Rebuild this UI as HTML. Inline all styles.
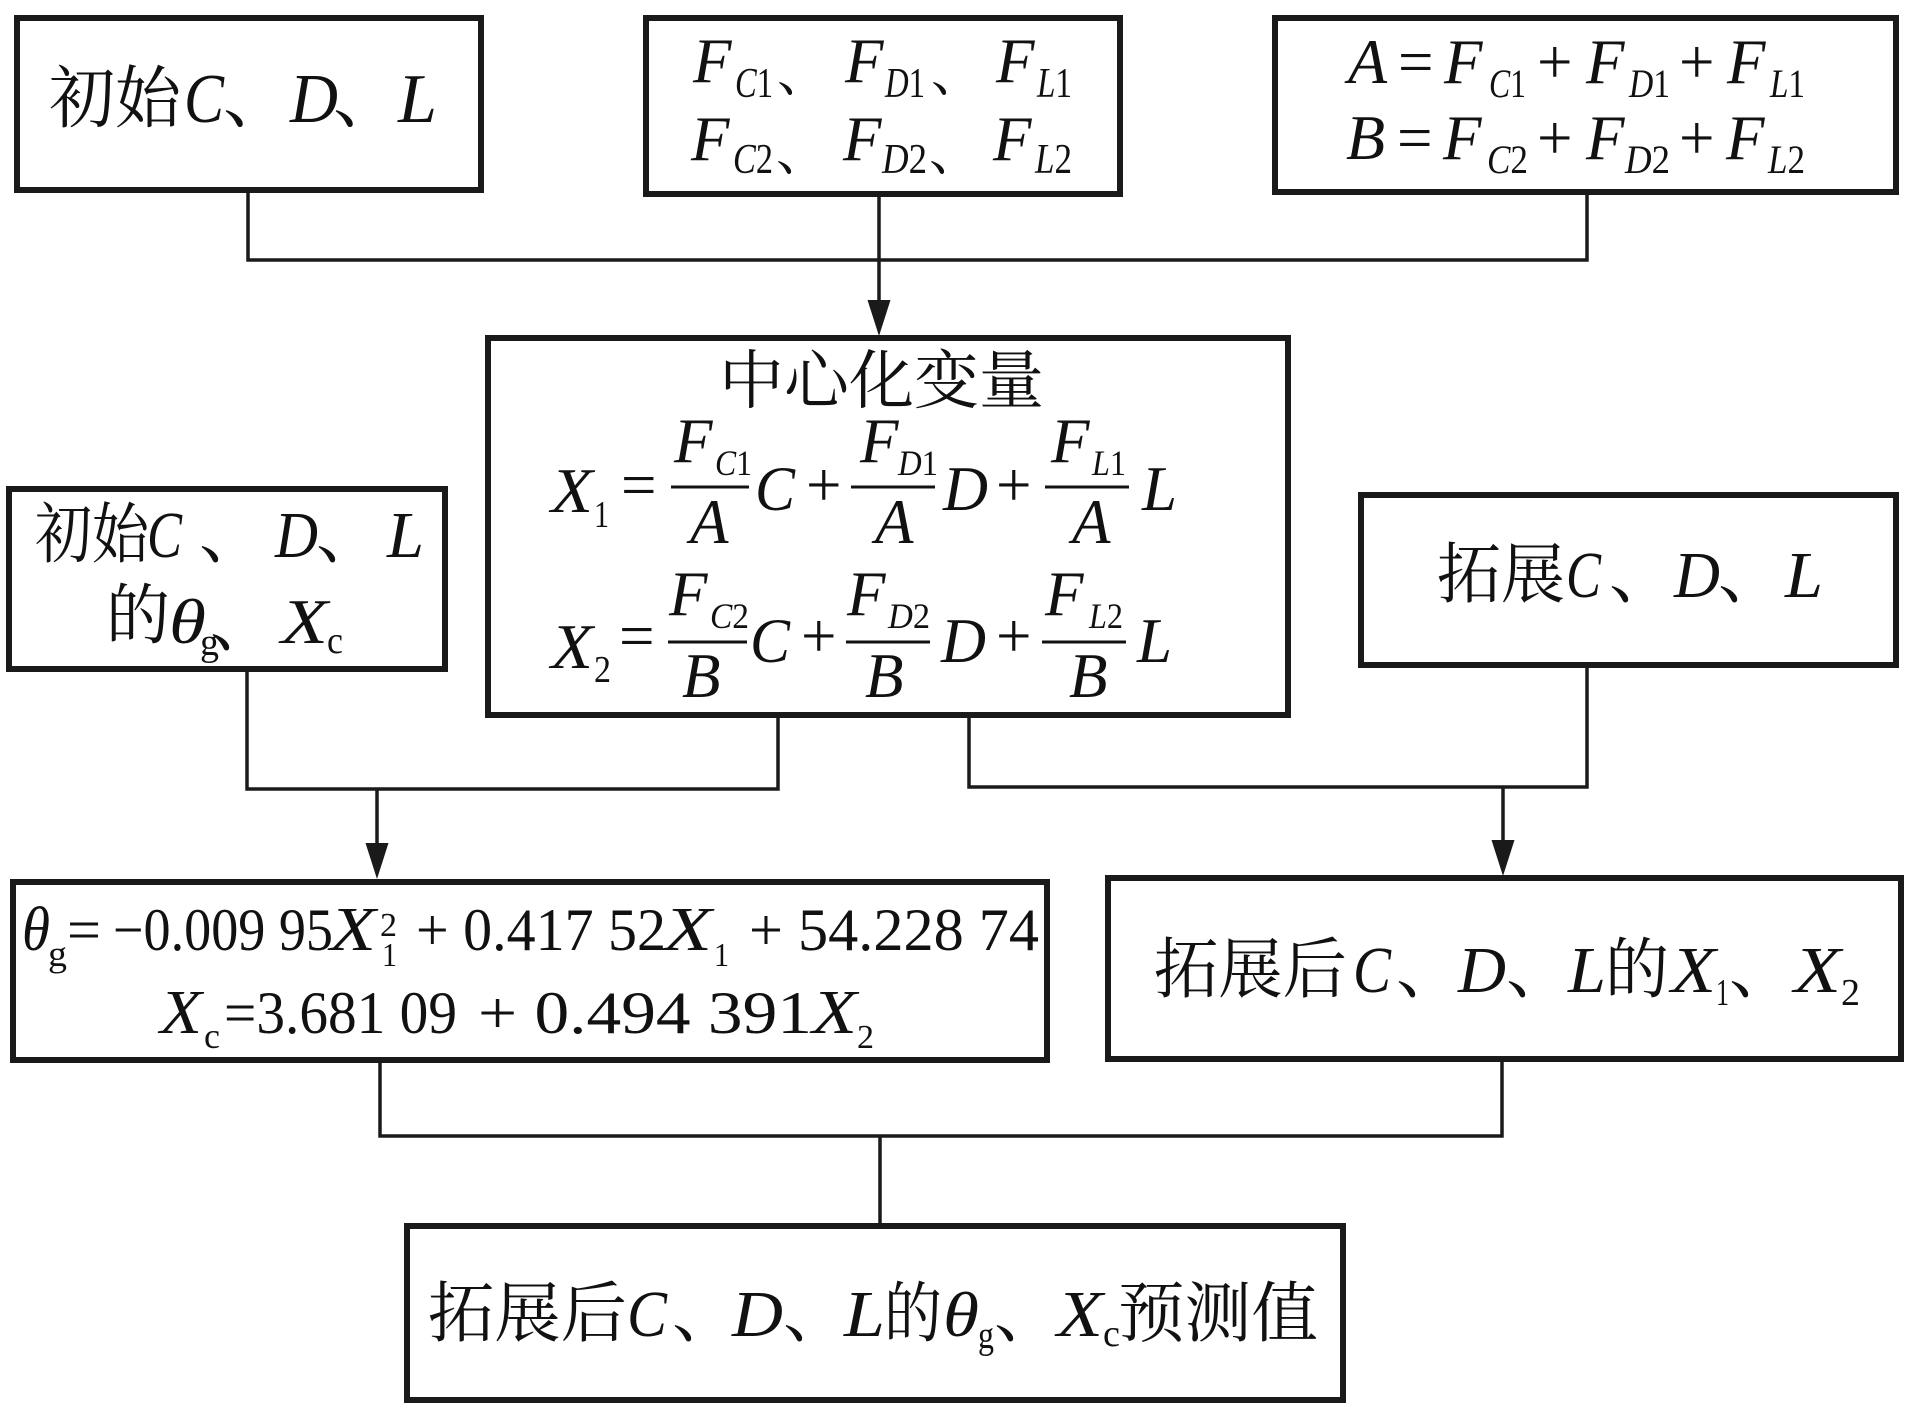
<!DOCTYPE html>
<html>
<head>
<meta charset="utf-8">
<style>
html,body{margin:0;padding:0;background:#fff;}
svg{display:block;}
.c{font-family:"Noto Serif CJK SC","Liberation Serif",serif;}
.i{font-family:"Liberation Serif",serif;font-style:italic;}
.r{font-family:"Liberation Serif",serif;font-style:normal;}
text{fill:#111;}
</style>
</head>
<body>
<svg width="1913" height="1420" viewBox="0 0 1913 1420" xmlns="http://www.w3.org/2000/svg">
<rect width="1913" height="1420" fill="#fff"/>

<!-- boxes -->
<g fill="none" stroke="#1a1a1a" stroke-width="6">
  <rect x="17" y="18" width="464" height="172"/>
  <rect x="646" y="18" width="474" height="176"/>
  <rect x="1275" y="18" width="621" height="174"/>
  <rect x="488" y="338" width="800" height="377"/>
  <rect x="9" y="489" width="436" height="180"/>
  <rect x="1361" y="495" width="535" height="170"/>
  <rect x="13" y="882" width="1034" height="178"/>
  <rect x="1108" y="878" width="793" height="181"/>
  <rect x="407" y="1226" width="936" height="174"/>
</g>

<!-- connectors -->
<g fill="none" stroke="#1a1a1a" stroke-width="3.5">
  <path d="M248 193 V260 H1587 V195"/>
  <path d="M879 197 V302"/>
  <path d="M247 672 V789 H778 V718"/>
  <path d="M377 789 V845"/>
  <path d="M969 718 V787 H1587 V668"/>
  <path d="M1503 787 V842"/>
  <path d="M380 1063 V1136 H1502 V1062"/>
  <path d="M880 1136 V1223"/>
</g>
<g fill="#1a1a1a">
  <polygon points="867.5,300 890.5,300 879,336"/>
  <polygon points="365.5,843 388.5,843 377,879"/>
  <polygon points="1491.5,840 1514.5,840 1503,876"/>
</g>

<!-- fraction bars -->
<g stroke="#111" stroke-width="3">
  <line x1="671" y1="487" x2="749" y2="487"/>
  <line x1="851" y1="487" x2="935" y2="487"/>
  <line x1="1045" y1="487" x2="1129" y2="487"/>
  <line x1="668" y1="642" x2="747" y2="642"/>
  <line x1="846" y1="642" x2="930" y2="642"/>
  <line x1="1042" y1="642" x2="1126" y2="642"/>
</g>

<!-- Box 1 -->
<text class="c" x="49" y="122" font-size="68" textLength="132" lengthAdjust="spacingAndGlyphs">初始</text>
<text class="i" x="184" y="122" font-size="70" textLength="40" lengthAdjust="spacingAndGlyphs">C</text>
<text class="c" x="223" y="122" font-size="68">、</text>
<text class="i" x="290" y="122" font-size="70" textLength="48" lengthAdjust="spacingAndGlyphs">D</text>
<text class="c" x="333" y="122" font-size="68">、</text>
<text class="i" x="398" y="122" font-size="70" textLength="39" lengthAdjust="spacingAndGlyphs">L</text>

<!-- Box 2 -->
<text class="i" x="693" y="82" font-size="63">F</text>
<text class="r" x="735" y="97" font-size="42" textLength="38" lengthAdjust="spacingAndGlyphs"><tspan font-style="italic">C</tspan>1</text>
<text class="c" x="777" y="91" font-size="52">、</text>
<text class="i" x="845" y="82" font-size="63">F</text>
<text class="r" x="885" y="97" font-size="42" textLength="40" lengthAdjust="spacingAndGlyphs"><tspan font-style="italic">D</tspan>1</text>
<text class="c" x="931" y="91" font-size="52">、</text>
<text class="i" x="996" y="82" font-size="63">F</text>
<text class="r" x="1037" y="97" font-size="42" textLength="35" lengthAdjust="spacingAndGlyphs"><tspan font-style="italic">L</tspan>1</text>

<text class="i" x="691" y="160" font-size="63">F</text>
<text class="r" x="733" y="173" font-size="42" textLength="40" lengthAdjust="spacingAndGlyphs"><tspan font-style="italic">C</tspan>2</text>
<text class="c" x="776" y="170" font-size="52">、</text>
<text class="i" x="843" y="160" font-size="63">F</text>
<text class="r" x="882" y="173" font-size="42" textLength="45" lengthAdjust="spacingAndGlyphs"><tspan font-style="italic">D</tspan>2</text>
<text class="c" x="929" y="170" font-size="52">、</text>
<text class="i" x="993" y="160" font-size="63">F</text>
<text class="r" x="1035" y="173" font-size="42" textLength="37" lengthAdjust="spacingAndGlyphs"><tspan font-style="italic">L</tspan>2</text>

<!-- Box 3 -->
<text class="i" x="1348" y="83" font-size="64">A</text>
<text class="r" x="1398" y="83" font-size="63">=</text>
<text class="i" x="1444" y="83" font-size="63">F</text>
<text class="r" x="1489" y="97" font-size="40" textLength="37" lengthAdjust="spacingAndGlyphs"><tspan font-style="italic">C</tspan>1</text>
<text class="r" x="1537" y="83" font-size="63">+</text>
<text class="i" x="1586" y="83" font-size="63">F</text>
<text class="r" x="1629" y="97" font-size="40" textLength="41" lengthAdjust="spacingAndGlyphs"><tspan font-style="italic">D</tspan>1</text>
<text class="r" x="1679" y="83" font-size="63">+</text>
<text class="i" x="1727" y="83" font-size="63">F</text>
<text class="r" x="1770" y="97" font-size="40" textLength="35" lengthAdjust="spacingAndGlyphs"><tspan font-style="italic">L</tspan>1</text>

<text class="i" x="1346" y="159" font-size="64">B</text>
<text class="r" x="1397" y="159" font-size="63">=</text>
<text class="i" x="1443" y="159" font-size="63">F</text>
<text class="r" x="1487" y="173" font-size="40" textLength="41" lengthAdjust="spacingAndGlyphs"><tspan font-style="italic">C</tspan>2</text>
<text class="r" x="1537" y="159" font-size="63">+</text>
<text class="i" x="1586" y="159" font-size="63">F</text>
<text class="r" x="1625" y="173" font-size="40" textLength="45" lengthAdjust="spacingAndGlyphs"><tspan font-style="italic">D</tspan>2</text>
<text class="r" x="1679" y="159" font-size="63">+</text>
<text class="i" x="1726" y="159" font-size="63">F</text>
<text class="r" x="1768" y="173" font-size="40" textLength="37" lengthAdjust="spacingAndGlyphs"><tspan font-style="italic">L</tspan>2</text>

<!-- Center box -->
<text class="c" x="719" y="403" font-size="64" textLength="325" lengthAdjust="spacingAndGlyphs">中心化变量</text>

<!-- X1 row -->
<text class="i" x="551" y="512" font-size="63" textLength="42" lengthAdjust="spacingAndGlyphs">X</text>
<text class="r" x="594" y="527" font-size="38" textLength="15" lengthAdjust="spacingAndGlyphs">1</text>
<text class="r" x="621" y="506" font-size="63">=</text>
<text class="i" x="674" y="462" font-size="63">F</text>
<text class="r" x="715" y="475" font-size="36" textLength="37" lengthAdjust="spacingAndGlyphs"><tspan font-style="italic">C</tspan>1</text>
<text class="i" x="690" y="543" font-size="63">A</text>
<text class="i" x="755" y="510" font-size="63" textLength="40" lengthAdjust="spacingAndGlyphs">C</text>
<text class="r" x="806" y="506" font-size="63">+</text>
<text class="i" x="860" y="462" font-size="63">F</text>
<text class="r" x="898" y="475" font-size="36" textLength="40" lengthAdjust="spacingAndGlyphs"><tspan font-style="italic">D</tspan>1</text>
<text class="i" x="875" y="543" font-size="63">A</text>
<text class="i" x="943" y="510" font-size="63" textLength="45" lengthAdjust="spacingAndGlyphs">D</text>
<text class="r" x="996" y="506" font-size="63">+</text>
<text class="i" x="1051" y="462" font-size="63">F</text>
<text class="r" x="1092" y="475" font-size="36" textLength="34" lengthAdjust="spacingAndGlyphs"><tspan font-style="italic">L</tspan>1</text>
<text class="i" x="1072" y="543" font-size="63">A</text>
<text class="i" x="1142" y="510" font-size="63" textLength="35" lengthAdjust="spacingAndGlyphs">L</text>

<!-- X2 row -->
<text class="i" x="551" y="668" font-size="63" textLength="42" lengthAdjust="spacingAndGlyphs">X</text>
<text class="r" x="594" y="682" font-size="38" textLength="17" lengthAdjust="spacingAndGlyphs">2</text>
<text class="r" x="619" y="657" font-size="63">=</text>
<text class="i" x="669" y="615" font-size="63">F</text>
<text class="r" x="710" y="628" font-size="36" textLength="39" lengthAdjust="spacingAndGlyphs"><tspan font-style="italic">C</tspan>2</text>
<text class="i" x="682" y="697" font-size="63">B</text>
<text class="i" x="750" y="662" font-size="63" textLength="40" lengthAdjust="spacingAndGlyphs">C</text>
<text class="r" x="801" y="657" font-size="63">+</text>
<text class="i" x="847" y="615" font-size="63">F</text>
<text class="r" x="888" y="628" font-size="36" textLength="42" lengthAdjust="spacingAndGlyphs"><tspan font-style="italic">D</tspan>2</text>
<text class="i" x="865" y="697" font-size="63">B</text>
<text class="i" x="941" y="662" font-size="63" textLength="45" lengthAdjust="spacingAndGlyphs">D</text>
<text class="r" x="996" y="657" font-size="63">+</text>
<text class="i" x="1045" y="615" font-size="63">F</text>
<text class="r" x="1089" y="628" font-size="36" textLength="34" lengthAdjust="spacingAndGlyphs"><tspan font-style="italic">L</tspan>2</text>
<text class="i" x="1069" y="697" font-size="63">B</text>
<text class="i" x="1137" y="662" font-size="63" textLength="35" lengthAdjust="spacingAndGlyphs">L</text>

<!-- Left box -->
<text class="c" x="35" y="557" font-size="66" textLength="114" lengthAdjust="spacingAndGlyphs">初始</text>
<text class="i" x="147" y="557" font-size="66" textLength="35" lengthAdjust="spacingAndGlyphs">C</text>
<text class="c" x="199" y="557" font-size="66">、</text>
<text class="i" x="275" y="557" font-size="66" textLength="43" lengthAdjust="spacingAndGlyphs">D</text>
<text class="c" x="316" y="557" font-size="66">、</text>
<text class="i" x="387" y="557" font-size="66" textLength="37" lengthAdjust="spacingAndGlyphs">L</text>

<text class="c" x="106" y="638" font-size="66" textLength="64" lengthAdjust="spacingAndGlyphs">的</text>
<text class="i" x="169" y="643" font-size="64" textLength="37" lengthAdjust="spacingAndGlyphs">θ</text>
<text class="r" x="200" y="655" font-size="38" textLength="19" lengthAdjust="spacingAndGlyphs">g</text>
<text class="c" x="210" y="645" font-size="66">、</text>
<text class="i" x="281" y="643" font-size="64" textLength="47" lengthAdjust="spacingAndGlyphs">X</text>
<text class="r" x="327" y="653" font-size="38" textLength="16" lengthAdjust="spacingAndGlyphs">c</text>

<!-- Right box -->
<text class="c" x="1437" y="597" font-size="66" textLength="128" lengthAdjust="spacingAndGlyphs">拓展</text>
<text class="i" x="1566" y="597" font-size="66" textLength="35" lengthAdjust="spacingAndGlyphs">C</text>
<text class="c" x="1609" y="597" font-size="66">、</text>
<text class="i" x="1674" y="597" font-size="66" textLength="46" lengthAdjust="spacingAndGlyphs">D</text>
<text class="c" x="1718" y="597" font-size="66">、</text>
<text class="i" x="1785" y="597" font-size="66" textLength="38" lengthAdjust="spacingAndGlyphs">L</text>

<!-- Theta box -->
<text class="i" x="22" y="950" font-size="62" textLength="28" lengthAdjust="spacingAndGlyphs">θ</text>
<text class="r" x="48" y="966" font-size="36" textLength="19" lengthAdjust="spacingAndGlyphs">g</text>
<text class="r" x="67" y="950" font-size="60" textLength="34" lengthAdjust="spacingAndGlyphs">=</text>
<text class="r" x="113" y="950" font-size="60" textLength="220" lengthAdjust="spacingAndGlyphs">−0.009 95</text>
<text class="i" x="330" y="950" font-size="62" textLength="46" lengthAdjust="spacingAndGlyphs">X</text>
<text class="r" x="380" y="936" font-size="34" textLength="17" lengthAdjust="spacingAndGlyphs">2</text>
<text class="r" x="382" y="966" font-size="34" textLength="15" lengthAdjust="spacingAndGlyphs">1</text>
<text class="r" x="416" y="950" font-size="60" textLength="250" lengthAdjust="spacingAndGlyphs">+ 0.417 52</text>
<text class="i" x="664" y="950" font-size="62" textLength="48" lengthAdjust="spacingAndGlyphs">X</text>
<text class="r" x="714" y="966" font-size="34" textLength="15" lengthAdjust="spacingAndGlyphs">1</text>
<text class="r" x="749" y="950" font-size="60" textLength="290" lengthAdjust="spacingAndGlyphs">+ 54.228 74</text>

<text class="i" x="160" y="1033" font-size="62" textLength="42" lengthAdjust="spacingAndGlyphs">X</text>
<text class="r" x="204" y="1048" font-size="36" textLength="16" lengthAdjust="spacingAndGlyphs">c</text>
<text class="r" x="224" y="1033" font-size="60" textLength="233" lengthAdjust="spacingAndGlyphs">=3.681 09</text>
<text class="r" x="478" y="1033" font-size="60" textLength="334" lengthAdjust="spacingAndGlyphs">+ 0.494 391</text>
<text class="i" x="812" y="1033" font-size="62" textLength="45" lengthAdjust="spacingAndGlyphs">X</text>
<text class="r" x="857" y="1048" font-size="34" textLength="17" lengthAdjust="spacingAndGlyphs">2</text>

<!-- Right box 2 -->
<text class="c" x="1154" y="992" font-size="66" textLength="193" lengthAdjust="spacingAndGlyphs">拓展后</text>
<text class="i" x="1353" y="992" font-size="66" textLength="38" lengthAdjust="spacingAndGlyphs">C</text>
<text class="c" x="1396" y="992" font-size="66">、</text>
<text class="i" x="1458" y="992" font-size="66" textLength="48" lengthAdjust="spacingAndGlyphs">D</text>
<text class="c" x="1506" y="992" font-size="66">、</text>
<text class="i" x="1568" y="992" font-size="66" textLength="38" lengthAdjust="spacingAndGlyphs">L</text>
<text class="c" x="1605" y="992" font-size="66" textLength="64" lengthAdjust="spacingAndGlyphs">的</text>
<text class="i" x="1671" y="992" font-size="66" textLength="45" lengthAdjust="spacingAndGlyphs">X</text>
<text class="r" x="1716" y="1005" font-size="38" textLength="13" lengthAdjust="spacingAndGlyphs">1</text>
<text class="c" x="1729" y="992" font-size="66">、</text>
<text class="i" x="1794" y="992" font-size="66" textLength="47" lengthAdjust="spacingAndGlyphs">X</text>
<text class="r" x="1841" y="1005" font-size="38" textLength="19" lengthAdjust="spacingAndGlyphs">2</text>

<!-- Bottom box -->
<text class="c" x="428" y="1336" font-size="66" textLength="199" lengthAdjust="spacingAndGlyphs">拓展后</text>
<text class="i" x="627" y="1336" font-size="66" textLength="40" lengthAdjust="spacingAndGlyphs">C</text>
<text class="c" x="672" y="1336" font-size="66">、</text>
<text class="i" x="732" y="1336" font-size="66" textLength="51" lengthAdjust="spacingAndGlyphs">D</text>
<text class="c" x="783" y="1336" font-size="66">、</text>
<text class="i" x="844" y="1336" font-size="66" textLength="41" lengthAdjust="spacingAndGlyphs">L</text>
<text class="c" x="884" y="1336" font-size="66" textLength="58" lengthAdjust="spacingAndGlyphs">的</text>
<text class="i" x="943" y="1336" font-size="64" textLength="36" lengthAdjust="spacingAndGlyphs">θ</text>
<text class="r" x="978" y="1348" font-size="38" textLength="16" lengthAdjust="spacingAndGlyphs">g</text>
<text class="c" x="994" y="1336" font-size="66">、</text>
<text class="i" x="1057" y="1336" font-size="66" textLength="46" lengthAdjust="spacingAndGlyphs">X</text>
<text class="r" x="1103" y="1346" font-size="38" textLength="17" lengthAdjust="spacingAndGlyphs">c</text>
<text class="c" x="1118" y="1336" font-size="66" textLength="200" lengthAdjust="spacingAndGlyphs">预测值</text>
</svg>
</body>
</html>
